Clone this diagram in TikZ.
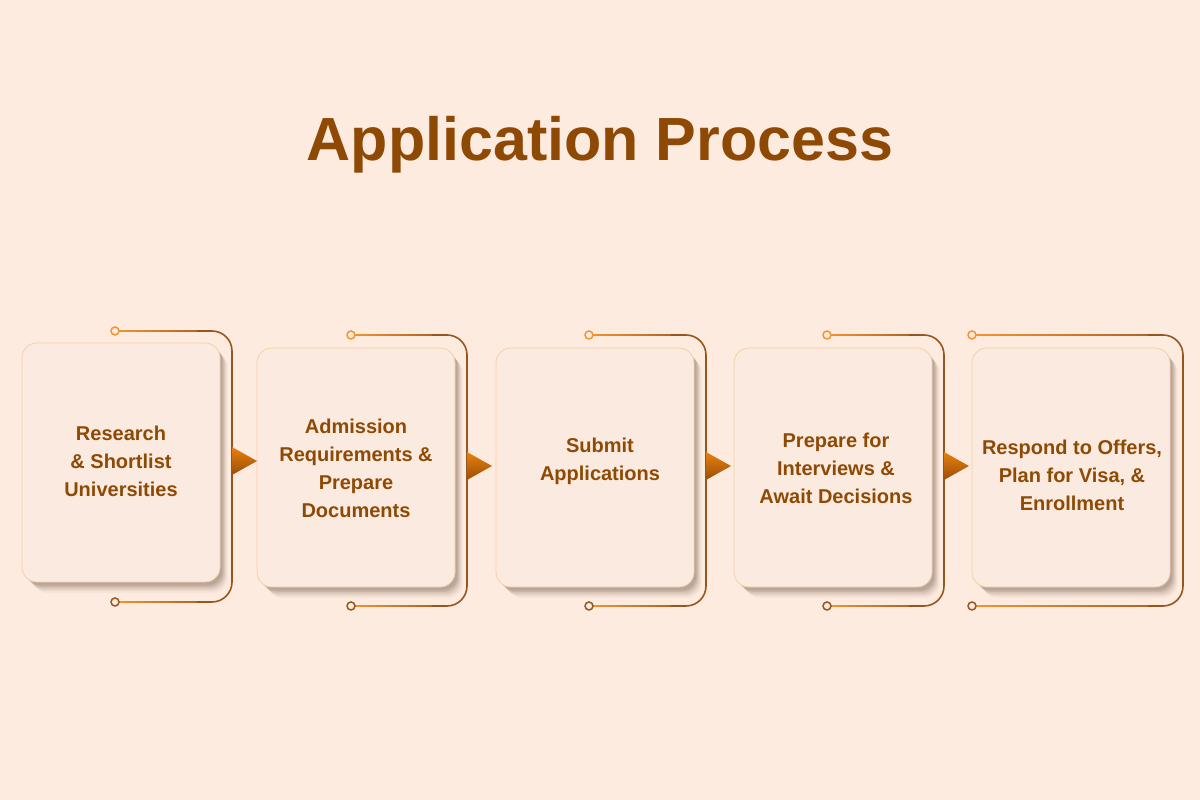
\documentclass[tikz,border=0pt]{standalone}
\usepackage{fontspec}
\setmainfont{Liberation Sans}
\definecolor{bg}{HTML}{FEEBDF}
\definecolor{boxfill}{HTML}{FBEADF}
\definecolor{boxline}{HTML}{F5CFA8}
\definecolor{txt}{HTML}{8E4A05}
\definecolor{orgL}{HTML}{F29533}
\definecolor{brn}{HTML}{96571F}
\definecolor{triTop}{HTML}{E9800F}
\definecolor{triBot}{HTML}{9A4E08}
\definecolor{shd}{HTML}{7A6658}
\begin{document}
\begin{tikzpicture}[x=1pt,y=1pt,
  box/.style={draw=boxline, fill=boxfill, rounded corners=15pt, minimum width=198pt, minimum height=239pt, line width=0.8pt, inner sep=0pt},
  lbl/.style={text=txt, font=\bfseries\fontsize{20}{28}\selectfont, align=center},
  ttl/.style={text=txt, font=\bfseries\fontsize{61}{70}\selectfont},
  brk/.style={draw=brn, line width=1.6pt, rounded corners=20pt},
  dotT/.style={draw=orgL, fill=bg, line width=1.5pt},
  dotB/.style={draw=brn, fill=bg, line width=1.5pt}]
\useasboundingbox (0,0) rectangle (1200,800);
\fill[bg] (0,0) rectangle (1200,800);
\node[ttl, anchor=base] (title) at (600,639) {Application Process};

% brackets: index / circle x / top y / right x / bottom y
\foreach \i/\cx/\ty/\rx/\by in {1/115/469/232/198, 2/351/465/467/194, 3/589/465/706/194, 4/827/465/944/194, 5/972/465/1183/194}{
  \coordinate (ct\i) at (\cx,\ty);
  \coordinate (cb\i) at (\cx,\by);
  \coordinate (kt\i) at (\rx-35,\ty);
  \coordinate (kb\i) at (\rx-35,\by);
  \shade[left color=orgL, right color=brn!75!orgL] (\cx,\ty-0.8) rectangle (\rx-34,\ty+0.8);
  \shade[left color=orgL, right color=brn!75!orgL] (\cx,\by-0.8) rectangle (\rx-34,\by+0.8);
  \draw[brk] (kt\i) -- (\rx,\ty) -- (\rx,\by) -- (kb\i);
  \draw[dotT] (ct\i) circle (4);
  \draw[dotB] (cb\i) circle (4);
}

% shadows and boxes: index / center x / center y
\foreach \i/\x/\y in {1/121/337.5, 2/356/332.5, 3/595/332.5, 4/833/332.5, 5/1071/332.5}{
  \foreach \d/\o in {11/0.05, 9.5/0.07, 8/0.09, 6.5/0.12, 5/0.15, 3.5/0.18}{
    \fill[shd, opacity=\o, rounded corners=15pt] (\x-99+\d,\y-119.5-\d) rectangle (\x+99+\d*0.7,\y+119.5-\d*0.9);
  }
  \node[box] (b\i) at (\x,\y) {};
}

% labels
\node[lbl] (t1) at (121,339) {Research\\ \& Shortlist\\ Universities};
\node[lbl] (t2) at (356,332) {Admission\\ Requirements \&\\ Prepare\\ Documents};
\node[lbl] (t3) at (600,339) {Submit\\ Applications};
\node[lbl] (t4) at (836,332) {Prepare for\\ Interviews \&\\ Await Decisions};
\node[lbl] (t5) at (1072,325) {Respond to Offers,\\ Plan for Visa, \&\\ Enrollment};

% triangles: left x / center y
\foreach \x/\y in {232/339, 467/334, 706/334, 944/334}{
  \shade[top color=triTop, bottom color=triBot] (\x,\y+14) -- (\x+25,\y) -- (\x,\y-14) -- cycle;
}
\end{tikzpicture}
\end{document}
